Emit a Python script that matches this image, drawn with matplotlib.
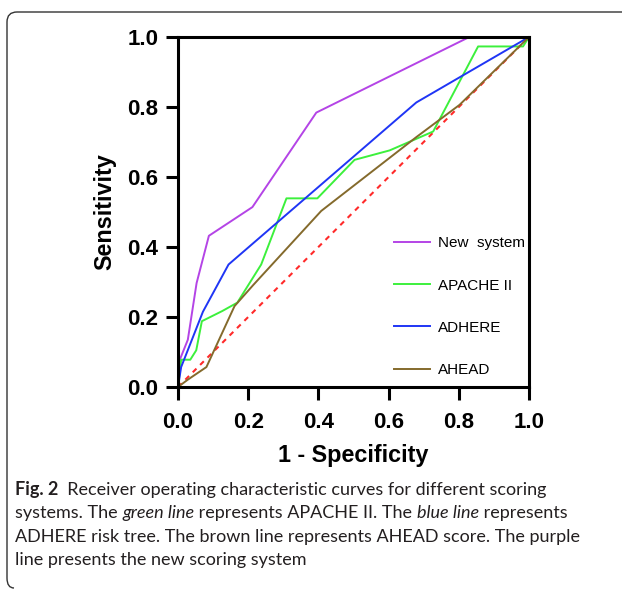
import matplotlib
matplotlib.use('Agg')
import matplotlib.pyplot as plt
from matplotlib.path import Path
from matplotlib.patches import PathPatch

# ROC points (1 - specificity, sensitivity)
new_fpr = [0.0, 0.006, 0.028, 0.053, 0.088, 0.212, 0.394, 0.83, 1.0]
new_tpr = [0.0, 0.08, 0.135, 0.297, 0.432, 0.514, 0.784, 1.0, 1.0]

apache_fpr = [0.0, 0.009, 0.035, 0.052, 0.068, 0.126, 0.169, 0.237, 0.309, 0.397, 0.503, 0.603, 0.727, 0.855, 0.983, 1.0]
apache_tpr = [0.0, 0.078, 0.078, 0.105, 0.188, 0.217, 0.241, 0.350, 0.539, 0.539, 0.649, 0.676, 0.730, 0.973, 0.973, 1.0]

adhere_fpr = [0.0, 0.009, 0.071, 0.144, 0.679, 1.0]
adhere_tpr = [0.0, 0.057, 0.215, 0.350, 0.813, 1.0]

ahead_fpr = [0.0, 0.028, 0.081, 0.161, 0.214, 0.408, 0.679, 0.802, 1.0]
ahead_tpr = [0.0, 0.021, 0.057, 0.231, 0.291, 0.503, 0.714, 0.806, 1.0]

ref_line = [0.0, 1.0]
ticks = [0.0, 0.2, 0.4, 0.6, 0.8, 1.0]

W, H = 627, 590
fig = plt.figure(figsize=(W / 100, H / 100), dpi=100)
ax = fig.add_axes([178 / W, 1 - 387 / H, 351 / W, 350 / H])

ax.plot(ref_line, ref_line, color='#ff2a2a', lw=1.5, ls=(0, (2.5, 2.5)))
ax.plot(new_fpr, new_tpr, color='#b444e6', lw=1.4, label='New  system')
ax.plot(apache_fpr, apache_tpr, color='#3cf03c', lw=1.4, label='APACHE II')
ax.plot(adhere_fpr, adhere_tpr, color='#1f35f5', lw=1.4, label='ADHERE')
ax.plot(ahead_fpr, ahead_tpr, color='#846a2c', lw=1.4, label='AHEAD')

ax.set_xlim(0, 1)
ax.set_ylim(0, 1)
ax.set_xticks(ticks)
ax.set_yticks(ticks)
ax.set_xticklabels([f'{t:.1f}' for t in ticks])
ax.set_yticklabels([f'{t:.1f}' for t in ticks])

for s in ax.spines.values():
    s.set_linewidth(2.2)
ax.tick_params(direction='out', length=9, width=2.2, pad=5, labelsize=16)
ax.tick_params(axis='x', pad=9)
for lab in ax.get_xticklabels() + ax.get_yticklabels():
    lab.set_fontweight('bold')
    lab.set_fontfamily('Liberation Sans')

ax.set_xlabel('1 - Specificity', fontsize=16.8, fontweight='bold', family='Liberation Sans', labelpad=8)
ax.set_ylabel('Sensitivity', fontsize=16.8, fontweight='bold', family='Liberation Sans', labelpad=8)

leg = ax.legend(loc='upper left', bbox_to_anchor=(0.575, 0.47), frameon=False,
                prop={'family': 'Liberation Sans', 'size': 11},
                handlelength=2.4, handletextpad=0.5, labelspacing=1.85)

# caption below the chart
cap_lines = [
    [('Fig. 2', 'bold', 'normal'), ('  Receiver operating characteristic curves for different scoring', 'normal', 'normal')],
    [('systems. The ', 'normal', 'normal'), ('green line', 'normal', 'italic'),
     (' represents APACHE II. The ', 'normal', 'normal'), ('blue line', 'normal', 'italic'),
     (' represents', 'normal', 'normal')],
    [('ADHERE risk tree. The brown line represents AHEAD score. The purple', 'normal', 'normal')],
    [('line presents the new scoring system', 'normal', 'normal')],
]
renderer = fig.canvas.get_renderer()
y0 = 490
for i, parts in enumerate(cap_lines):
    x = 15
    y = 1 - (y0 + i * 23.3) / H
    for txt, wt, st in parts:
        t = fig.text(x / W, y, txt, fontsize=13, family='Lato', fontweight=wt,
                     fontstyle=st, va='center', ha='left', color='#231f20')
        bb = t.get_window_extent(renderer)
        x += bb.width

# rounded border on the top and left
pts = [(622, 12), (17, 12), (7, 12), (7, 22), (7, 578), (7, 588), (14, 588)]
codes = [Path.MOVETO, Path.LINETO, Path.CURVE3, Path.CURVE3, Path.LINETO, Path.CURVE3, Path.CURVE3]
verts = [(px / W, 1 - py / H) for px, py in pts]
fig.add_artist(PathPatch(Path(verts, codes), transform=fig.transFigure,
                         fill=False, edgecolor='#333333', lw=1.0))

plt.savefig('out.png', dpi=100)
